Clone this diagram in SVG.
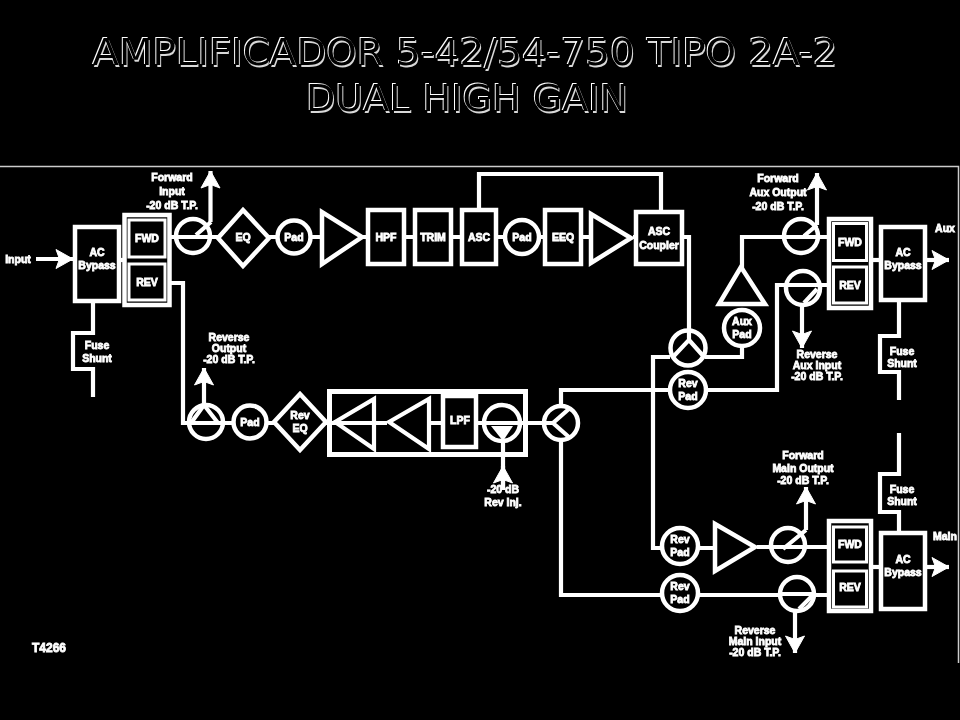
<svg xmlns="http://www.w3.org/2000/svg" width="960" height="720" viewBox="0 0 960 720">
<style>
.b{fill:#000;stroke:#fff;stroke-width:4.500}
.n{fill:#000;stroke:#fff;stroke-width:3}
.w{fill:none;stroke:#fff;stroke-width:4.200;stroke-linejoin:miter}
.a{fill:none;stroke:#fff;stroke-width:4.200;marker-end:url(#ah)}
.t{font-family:"Liberation Sans",Arial,sans-serif;font-weight:700;font-size:10.5px;fill:#fff;stroke:#fff;stroke-width:.8;text-anchor:middle}
.h{font-family:"DejaVu Sans",Verdana,sans-serif;font-size:38px;fill:#000;text-anchor:middle}
</style>
<defs>
<marker id="ah" markerUnits="userSpaceOnUse" markerWidth="22" markerHeight="22" viewBox="0 0 22 22" refX="19" refY="11" orient="auto">
<path d="M19 11L2 1.500L5.500 11L2 20.500Z" fill="#fff" stroke="#fff"/>
</marker>
<filter id="soft" x="0" y="0" width="100%" height="100%"><feGaussianBlur stdDeviation=".45"/></filter>
<filter id="emboss" x="-2%" y="-10%" width="104%" height="120%">
<feOffset in="SourceAlpha" dx="-.7" dy="-.7" result="o1"/>
<feComposite in="o1" in2="SourceAlpha" operator="out" result="c1"/>
<feFlood flood-color="#fff"/>
<feComposite in2="c1" operator="in" result="hi"/>
<feOffset in="SourceAlpha" dx="1.3" dy="1.5" result="o2"/>
<feComposite in="o2" in2="SourceAlpha" operator="out" result="c2"/>
<feFlood flood-color="#d8d8d8"/>
<feComposite in2="c2" operator="in" result="lo"/>
<feMerge><feMergeNode in="lo"/><feMergeNode in="hi"/></feMerge>
</filter>
</defs>
<rect id="background" width="960" height="720" fill="#000"/>
<g id="title" filter="url(#emboss)">
<text class="h" x="465" y="65" textLength="745" lengthAdjust="spacingAndGlyphs">AMPLIFICADOR 5-42/54-750 TIPO 2A-2</text>
<text class="h" x="467" y="111" textLength="322" lengthAdjust="spacingAndGlyphs">DUAL HIGH GAIN</text>
</g>
<path id="frame" d="M0 166.500H958.500V663" fill="none" stroke="#ccc" stroke-width="1.500"/>
<g id="diagram" filter="url(#soft)">
<g id="connectors">
<path class="a" d="M36 259H73"/>
<path class="w" d="M171 237H366"/>
<path class="a" d="M210.500 222V171"/>
<path class="w" d="M406 237H413M453 237H460M498 237H589M633 237H689V330"/>
<path class="w" d="M479 208V174H661V210"/>
<path class="w" d="M120 260H124"/>
<path class="w" d="M171 283H183V423H330"/>
<path class="a" d="M204 405V368"/>
<path class="w" d="M93 301V333H73V369H93V397"/>
<path class="w" d="M330 423H375M375 423H387M430 423H441M477 423H561"/>
<path class="w" d="M503 443V490"/>
<path class="a" d="M503 490V466"/>
<path class="w" d="M561 404V390H777V285H827"/>
<path class="w" d="M561 442V595H827"/>
<path class="w" d="M705 357H742V345M742 306V237H827"/>
<path class="a" d="M817 225V173"/>
<path class="a" d="M802 305V348"/>
<path class="w" d="M872 260H879"/>
<path class="a" d="M927 260H949"/>
<path class="w" d="M899 302V336H880V372H899V400"/>
<path class="w" d="M670 357H653V548H713M757 547H827"/>
<path class="a" d="M806 530V487"/>
<path class="a" d="M795 612V653"/>
<path class="w" d="M872 567H879"/>
<path class="a" d="M927 567H949"/>
<path class="w" d="M899 433V474H880V512H899V531"/>
</g>
<g id="input-label"><text class="t" x="18" y="263">Input</text></g>
<g id="ac-bypass-input"><rect class="b" x="75" y="227" width="44" height="74"/><text class="t" x="97" y="256">AC</text><text class="t" x="97" y="269">Bypass</text></g>
<g id="fuse-shunt-input"><text class="t" x="97" y="349">Fuse</text><text class="t" x="97" y="362">Shunt</text></g>
<g id="diplex-input"><rect class="b" x="124.500" y="215" width="45" height="90"/><rect class="n" x="129" y="220" width="36" height="37"/><rect class="n" x="129" y="264" width="36" height="36"/><text class="t" x="147" y="242">FWD</text><text class="t" x="147" y="286">REV</text></g>
<g id="forward-input-tp"><circle class="b" cx="193" cy="236" r="17"/><path class="w" d="M176 237H210M196 235L211 222"/><text class="t" x="172" y="181">Forward</text><text class="t" x="172" y="195">Input</text><text class="t" x="172" y="209">-20 dB T.P.</text></g>
<g id="eq"><path class="b" d="M243 210L269 238L243 266L218 238Z"/><text class="t" x="243" y="241">EQ</text></g>
<g id="pad-1"><circle class="b" cx="294" cy="237" r="16.500"/><text class="t" x="294" y="241">Pad</text></g>
<g id="amp-1"><path class="b" d="M322 212V264L362 237Z"/></g>
<g id="hpf"><rect class="b" x="368" y="210" width="36" height="54"/><text class="t" x="386" y="241">HPF</text></g>
<g id="trim"><rect class="b" x="415" y="210" width="36" height="54"/><text class="t" x="433" y="241">TRIM</text></g>
<g id="asc"><rect class="b" x="462" y="210" width="34" height="54"/><text class="t" x="479" y="241">ASC</text></g>
<g id="pad-2"><circle class="b" cx="522" cy="237" r="17"/><text class="t" x="522" y="241">Pad</text></g>
<g id="eeq"><rect class="b" x="545" y="210" width="36" height="54"/><text class="t" x="563" y="241">EEQ</text></g>
<g id="amp-2"><path class="b" d="M591 214V263L631 238Z"/></g>
<g id="asc-coupler"><rect class="b" x="636" y="212" width="46" height="52"/><text class="t" x="659" y="235">ASC</text><text class="t" x="659" y="249">Coupler</text></g>
<g id="splitter-out"><circle class="b" cx="688" cy="348" r="17.500"/><path class="w" d="M689 331V340L672 358M689 340L705 358"/></g>
<g id="aux-pad"><circle class="b" cx="742" cy="328" r="18"/><text class="t" x="742" y="325">Aux</text><text class="t" x="742" y="338">Pad</text></g>
<g id="aux-amp"><path class="b" d="M741 267L719 304H765Z"/></g>
<g id="forward-aux-tp"><circle class="b" cx="801" cy="236" r="17"/><path class="w" d="M784 237H818M804 236L817 225"/><text class="t" x="778" y="182">Forward</text><text class="t" x="778" y="196">Aux Output</text><text class="t" x="778" y="210">-20 dB T.P.</text></g>
<g id="diplex-aux"><rect class="b" x="829" y="219" width="42" height="89"/><rect class="n" x="833.500" y="223.500" width="33" height="37"/><rect class="n" x="833.500" y="267" width="33" height="36"/><text class="t" x="850" y="246">FWD</text><text class="t" x="850" y="289">REV</text></g>
<g id="ac-bypass-aux"><rect class="b" x="881" y="227" width="44" height="73"/><text class="t" x="903" y="256">AC</text><text class="t" x="903" y="269">Bypass</text></g>
<g id="aux-label"><text class="t" x="945" y="232">Aux</text></g>
<g id="fuse-shunt-aux"><text class="t" x="902" y="355">Fuse</text><text class="t" x="902" y="367">Shunt</text></g>
<g id="reverse-aux-tp"><circle class="b" cx="803" cy="288" r="17"/><path class="w" d="M786 285H820M804 303L817 289"/><text class="t" x="817" y="358">Reverse</text><text class="t" x="817" y="369">Aux Input</text><text class="t" x="817" y="380">-20 dB T.P.</text></g>
<g id="rev-pad-aux"><circle class="b" cx="688" cy="390" r="18"/><text class="t" x="688" y="387">Rev</text><text class="t" x="688" y="400">Pad</text></g>
<g id="reverse-output-tp"><circle class="b" cx="206" cy="422" r="17"/><path class="w" d="M189 423H223M191 423L204 405L218 423"/><text class="t" x="229" y="341">Reverse</text><text class="t" x="229" y="352">Output</text><text class="t" x="229" y="363">-20 dB T.P.</text></g>
<g id="pad-rev"><circle class="b" cx="250" cy="422" r="16.500"/><text class="t" x="250" y="426">Pad</text></g>
<g id="rev-eq"><path class="b" d="M300 394L326 422L300 450L274 422Z"/><text class="t" x="300" y="419">Rev</text><text class="t" x="300" y="432">EQ</text></g>
<g id="reverse-module"><rect class="w" x="329.500" y="391.500" width="196" height="63" style="stroke-width:5"/><path class="w" d="M335 422L374 399V449Z"/><path class="w" d="M389 422L429 399V449Z"/><rect class="b" x="443" y="396" width="33" height="51"/><text class="t" x="460" y="424">LPF</text></g>
<g id="rev-inj-tp"><circle class="b" cx="502" cy="423" r="18"/><path class="w" d="M484 423H521"/><path d="M491 426H513L503 441Z" fill="#fff"/><text class="t" x="503" y="493">-20 dB</text><text class="t" x="503" y="506">Rev Inj.</text></g>
<g id="splitter-in"><circle class="b" cx="561" cy="423" r="17"/><path class="w" d="M544 423H553M570 408L553 423L570 438"/></g>
<g id="rev-pad-fwd"><circle class="b" cx="680" cy="546" r="18"/><text class="t" x="680" y="543">Rev</text><text class="t" x="680" y="556">Pad</text></g>
<g id="main-amp"><path class="b" d="M715 524V571L755 547Z"/></g>
<g id="forward-main-tp"><circle class="b" cx="788" cy="545" r="17"/><path class="w" d="M771 547H805M783 549L806 530"/><text class="t" x="803" y="459">Forward</text><text class="t" x="803" y="472">Main Output</text><text class="t" x="803" y="484">-20 dB T.P.</text></g>
<g id="diplex-main"><rect class="b" x="829" y="521" width="42" height="90"/><rect class="n" x="833.500" y="527" width="33" height="35"/><rect class="n" x="833.500" y="571" width="33" height="36"/><text class="t" x="850" y="548">FWD</text><text class="t" x="850" y="591">REV</text></g>
<g id="ac-bypass-main"><rect class="b" x="881" y="533" width="44" height="76"/><text class="t" x="903" y="563">AC</text><text class="t" x="903" y="576">Bypass</text></g>
<g id="main-label"><text class="t" x="945" y="540">Main</text></g>
<g id="fuse-shunt-main"><text class="t" x="902" y="493">Fuse</text><text class="t" x="902" y="505">Shunt</text></g>
<g id="rev-pad-main"><circle class="b" cx="680" cy="593" r="18"/><text class="t" x="680" y="590">Rev</text><text class="t" x="680" y="603">Pad</text></g>
<g id="reverse-main-tp"><circle class="b" cx="797" cy="594" r="17"/><path class="w" d="M780 594H814M799 609L813 595"/><text class="t" x="755" y="634">Reverse</text><text class="t" x="755" y="645">Main Input</text><text class="t" x="755" y="656">-20 dB T.P.</text></g>
<g id="drawing-number"><text class="t" x="49" y="652" style="font-size:12px">T4266</text></g>
</g>
</svg>
